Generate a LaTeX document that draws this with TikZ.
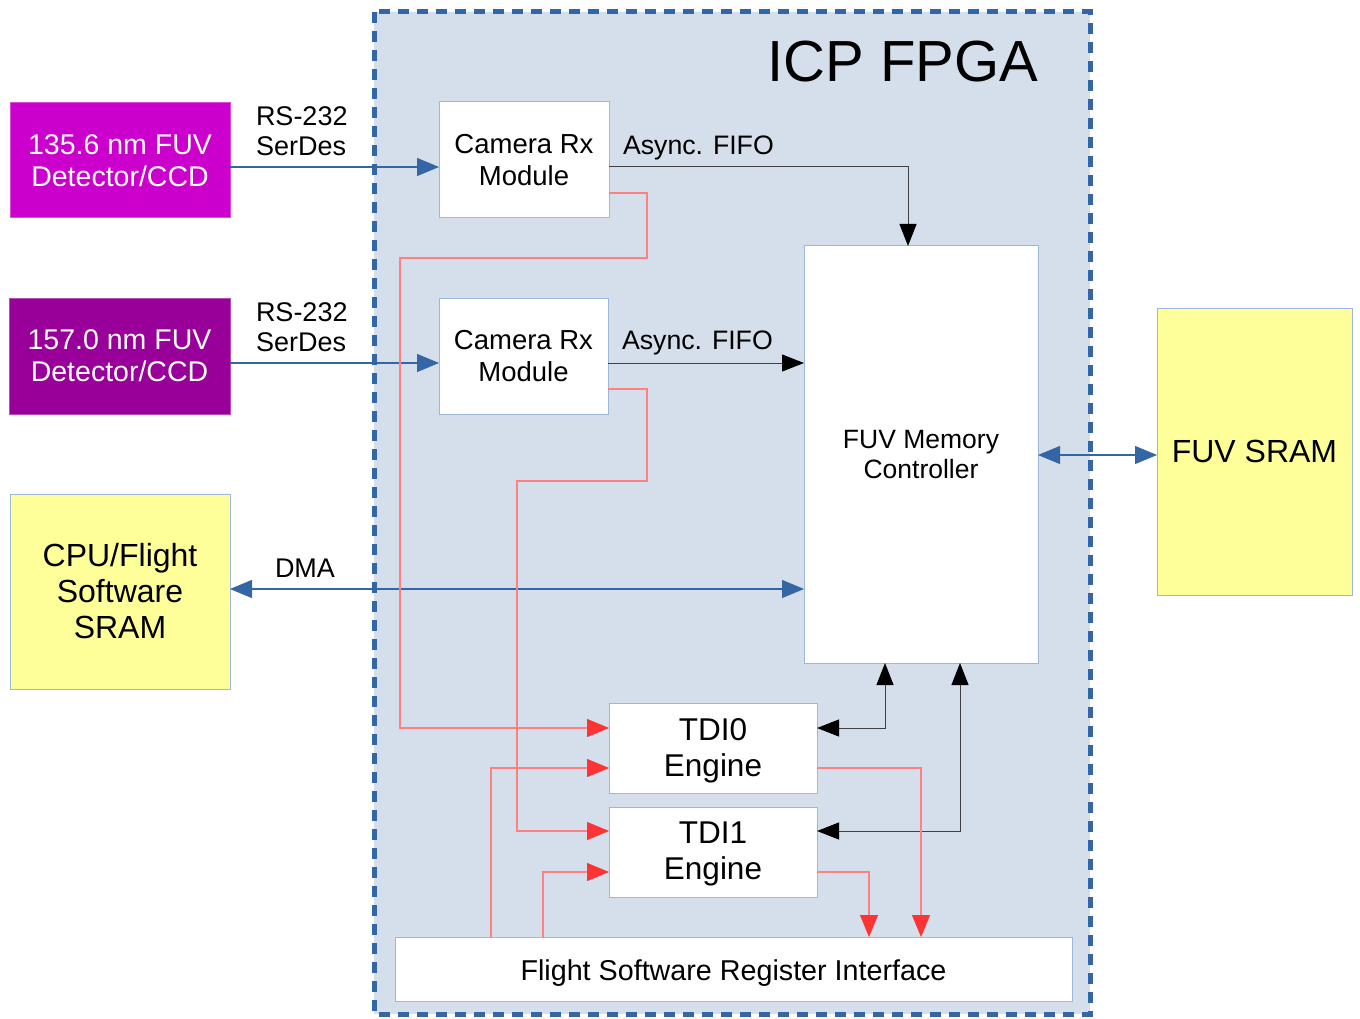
\documentclass[tikz,border=0pt]{standalone}
\usepackage{fontspec}
\setmainfont{Liberation Sans}
\usetikzlibrary{arrows.meta,calc}
\definecolor{fpgafill}{HTML}{D5DFEB}
\definecolor{fpgadash}{HTML}{3465A4}
\definecolor{boxline}{HTML}{9DB7DC}
\definecolor{conblue}{HTML}{3465A4}
\definecolor{magbox}{HTML}{CC00CC}
\definecolor{purbox}{HTML}{990099}
\definecolor{yelbox}{HTML}{FFFF99}
\definecolor{redln}{HTML}{FF8080}
\definecolor{redtip}{HTML}{FF3333}
\begin{document}
\begin{tikzpicture}[x=1pt,y=-1pt,
  box/.style={draw=boxline, line width=1pt, fill=white, inner sep=0pt, outer sep=0pt, align=center},
  lbl/.style={inner sep=0pt, outer sep=0pt, align=left},
  blueconn/.style={draw=conblue, line width=1.1pt},
  blackconn/.style={draw=black!75, line width=1pt},
  redconn/.style={draw=redln, line width=1.1pt},
]
\useasboundingbox (0,0) rectangle (1360,1019);
% FPGA frame
\draw[fill=fpgafill, draw=fpgadash, line width=5pt, dash pattern=on 11pt off 8pt] (374,12) rectangle (1090,1014);
\node[lbl, font=\fontsize{58}{64}\selectfont] (title) at (903,62) {ICP FPGA};

% external boxes
\node[box, fill=magbox, draw=magbox!70!white, text=white, minimum width=220pt, minimum height=115pt, font=\fontsize{28.5}{32}\selectfont] (det1) at (120,160.5) {135.6 nm FUV\\Detector/CCD};
\node[box, fill=purbox, draw=purbox!70!white, text=white, minimum width=221pt, minimum height=116pt, font=\fontsize{28.5}{32}\selectfont] (det2) at (119.5,356) {157.0 nm FUV\\Detector/CCD};
\node[box, fill=yelbox, minimum width=220pt, minimum height=195pt, font=\fontsize{32}{36}\selectfont] (cpu) at (120,591.5) {CPU/Flight\\Software\\SRAM};
\node[box, fill=yelbox, minimum width=195pt, minimum height=287pt, font=\fontsize{32}{36}\selectfont] (sram) at (1254.5,451.5) {FUV SRAM};

% internal boxes
\node[box, minimum width=170pt, minimum height=116pt, font=\fontsize{27.5}{32}\selectfont] (cam1) at (524,160) {Camera Rx\\Module};
\node[box, minimum width=169pt, minimum height=116pt, font=\fontsize{27.5}{32}\selectfont] (cam2) at (523.5,356) {Camera Rx\\Module};
\node[box, minimum width=234pt, minimum height=417pt, font=\fontsize{26.5}{30}\selectfont] (mem) at (921,454.5) {FUV Memory\\Controller};
\node[box, minimum width=208pt, minimum height=90pt, font=\fontsize{31.5}{36}\selectfont, text depth=2pt] (tdi0) at (713,748) {TDI0\\Engine};
\node[box, minimum width=208pt, minimum height=90pt, font=\fontsize{31.5}{36}\selectfont, text depth=2pt] (tdi1) at (713,852) {TDI1\\Engine};
\node[box, minimum width=677pt, minimum height=64pt, font=\fontsize{28.7}{32}\selectfont, text height=22pt, text depth=0pt] (fsri) at (733.5,969) {Flight Software Register Interface};

% labels
\node[lbl, anchor=west, font=\fontsize{27}{30}\selectfont] (rs1) at (256,131) {RS-232\\SerDes};
\node[lbl, anchor=west, font=\fontsize{27}{30}\selectfont] (rs2) at (256,327) {RS-232\\SerDes};
\node[lbl, anchor=west, font=\fontsize{26.7}{30}\selectfont] (af1) at (623,148) {Async. FIFO};
\node[lbl, anchor=west, font=\fontsize{26.7}{30}\selectfont] (af2) at (622,343) {Async. FIFO};
\node[lbl, font=\fontsize{27}{30}\selectfont] (dma) at (305,568) {DMA};

% helper coordinates
\coordinate (c167) at (0,167);
\coordinate (c363) at (0,363);
\coordinate (c589) at (0,589);
\coordinate (c455) at (0,455);
\coordinate (c193) at (0,193);
\coordinate (c389) at (0,389);
\coordinate (c728) at (0,728);
\coordinate (c768) at (0,768);
\coordinate (c831) at (0,831);
\coordinate (c872) at (0,872);
\coordinate (x908) at (908,0);
\coordinate (x885) at (885,0);
\coordinate (x960) at (960,0);
\coordinate (x491) at (491,0);
\coordinate (x543) at (543,0);
\coordinate (x921) at (921,0);
\coordinate (x869) at (869,0);

% blue connectors
\draw[blueconn, -{Triangle[length=22pt,width=18pt]}] (det1.east |- c167) -- (cam1.west |- c167);
\draw[blueconn, -{Triangle[length=22pt,width=18pt]}] (det2.east |- c363) -- (cam2.west |- c363);
\draw[blueconn, {Triangle[length=22pt,width=18pt]}-{Triangle[length=22pt,width=18pt]}] (cpu.east |- c589) -- (mem.west |- c589);
\draw[blueconn, {Triangle[length=22pt,width=18pt]}-{Triangle[length=22pt,width=18pt]}] (mem.east |- c455) -- (sram.west |- c455);

% black connectors
\draw[blackconn, -{Triangle[length=22pt,width=17pt,color=black]}] (cam1.east |- c167) -| (mem.north -| x908);
\draw[blackconn, -{Triangle[length=22pt,width=17pt,color=black]}] (cam2.east |- c363) -- (mem.west |- c363);
\draw[blackconn, {Triangle[length=22pt,width=17pt,color=black]}-{Triangle[length=22pt,width=17pt,color=black]}] (tdi0.east |- c728) -| (mem.south -| x885);
\draw[blackconn, {Triangle[length=22pt,width=17pt,color=black]}-{Triangle[length=22pt,width=17pt,color=black]}] (tdi1.east |- c831) -| (mem.south -| x960);

% red connectors
\draw[redconn, -{Triangle[length=22pt,width=18pt,color=redtip]}] (cam1.east |- c193) -| (647,258) -| (400,728) -- (tdi0.west |- c728);
\draw[redconn, -{Triangle[length=22pt,width=18pt,color=redtip]}] (cam2.east |- c389) -| (647,481) -| (517,831) -- (tdi1.west |- c831);
\draw[redconn, -{Triangle[length=22pt,width=18pt,color=redtip]}] (fsri.north -| x491) |- (tdi0.west |- c768);
\draw[redconn, -{Triangle[length=22pt,width=18pt,color=redtip]}] (fsri.north -| x543) |- (tdi1.west |- c872);
\draw[redconn, -{Triangle[length=22pt,width=18pt,color=redtip]}] (tdi0.east |- c768) -| (fsri.north -| x921);
\draw[redconn, -{Triangle[length=22pt,width=18pt,color=redtip]}] (tdi1.east |- c872) -| (fsri.north -| x869);
\end{tikzpicture}
\end{document}
